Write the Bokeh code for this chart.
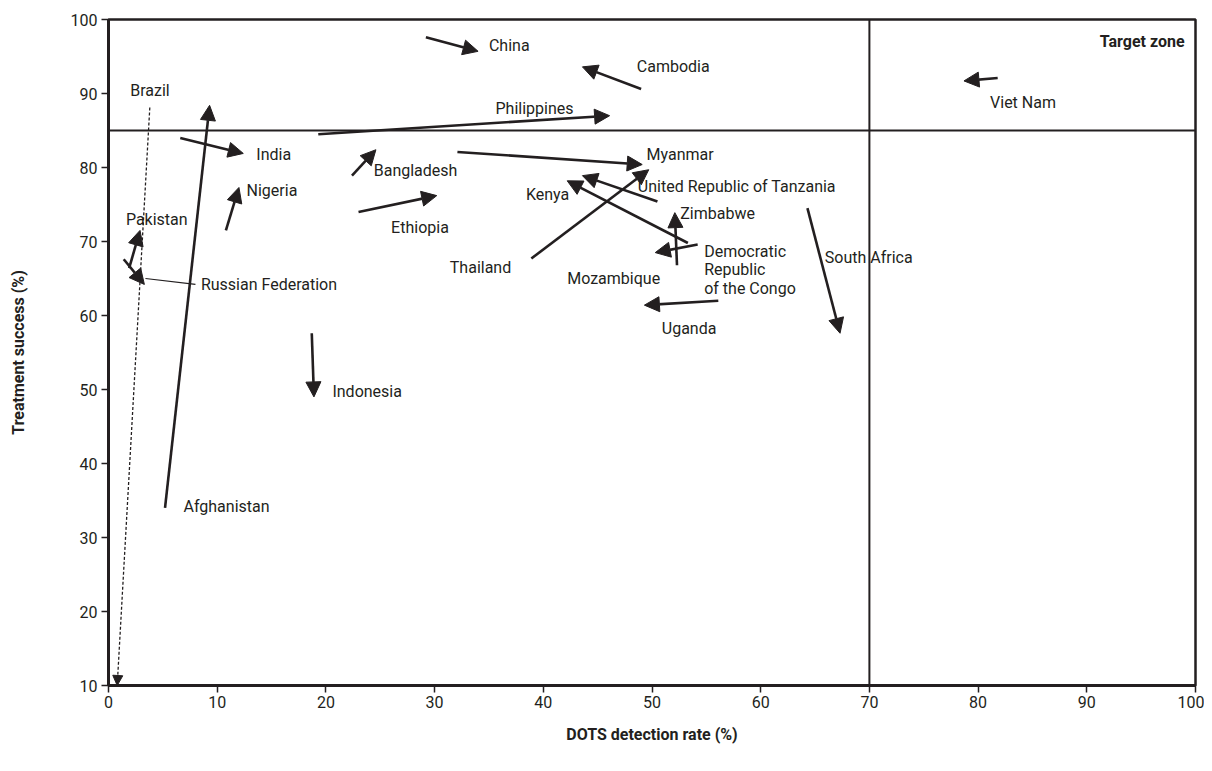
from bokeh.plotting import figure
from bokeh.models import Arrow, NormalHead, ColumnDataSource, Span, Range1d, FixedTicker, Label
from bokeh.core.properties import value
from bokeh.embed import file_html
from bokeh.resources import INLINE

FONT = "Roboto"

countries = ["China", "Cambodia", "Philippines", "Viet Nam", "Afghanistan", "India", "Nigeria",
             "Bangladesh", "Ethiopia", "Pakistan", "Russian Federation", "Indonesia", "Myanmar",
             "Thailand", "Kenya", "United Republic of Tanzania", "Zimbabwe",
             "Democratic Republic of the Congo", "Uganda", "South Africa"]
det_start = [29.2, 49.0, 19.3, 81.8, 5.2, 6.6, 10.8, 22.4, 23.0, 1.9, 1.4, 18.7, 32.1, 38.9, 53.3, 50.5, 52.3, 54.2, 56.1, 64.3]
det_end   = [34.0, 43.6, 46.1, 78.7, 9.3, 12.4, 12.0, 24.6, 30.2, 2.9, 3.3, 18.9, 49.1, 49.7, 42.2, 43.6, 52.1, 50.3, 49.3, 67.3]
suc_start = [97.6, 90.6, 84.5, 92.1, 34.0, 84.0, 71.5, 78.9, 74.0, 66.4, 67.6, 57.6, 82.1, 67.7, 69.8, 75.4, 66.8, 69.6, 62.0, 74.5]
suc_end   = [95.7, 93.6, 87.0, 91.7, 88.4, 81.9, 77.3, 82.4, 76.2, 71.5, 64.2, 49.0, 80.4, 79.7, 78.2, 78.9, 73.9, 68.5, 61.4, 57.6]

# Brazil (dotted)
brazil_det = [3.8, 0.8]
brazil_suc = [88.1, 10.0]

label_text = ["China", "Cambodia", "Philippines", "Viet Nam", "Brazil", "Afghanistan", "India", "Nigeria",
              "Bangladesh", "Ethiopia", "Pakistan", "Russian Federation", "Indonesia", "Myanmar",
              "Thailand", "Kenya", "United Republic of Tanzania", "Zimbabwe",
              "Democratic\nRepublic\nof the Congo", "Mozambique", "Uganda", "South Africa"]
label_x = [35.0, 48.6, 35.6, 81.1, 2.0, 6.9, 13.6, 12.7, 24.4, 26.0, 1.6, 8.5, 20.6, 49.5, 31.4, 38.4, 48.7, 52.6, 54.8, 42.2, 50.9, 65.9]
label_y = [96.45, 93.65, 87.95, 88.75, 90.45, 34.15, 81.75, 76.95, 79.65, 71.85, 72.95, 64.15, 49.75, 81.75, 66.45, 76.35, 77.45, 73.75, 66.2, 64.95, 58.25, 67.85]

leader_x = [3.4, 8.0]
leader_y = [65.0, 64.2]

x_ticks = [0, 10, 20, 30, 40, 50, 60, 70, 80, 90, 100]
y_ticks = [10, 20, 30, 40, 50, 60, 70, 80, 90, 100]
target_det = 70
target_suc = 85

p = figure(width=1204, height=763, output_backend="svg", toolbar_location=None,
           x_range=Range1d(0, 100), y_range=Range1d(10, 100),
           min_border_left=108, min_border_right=9, min_border_top=19, min_border_bottom=78)
p.background_fill_color = "white"
p.border_fill_color = "white"
p.outline_line_color = "#231f20"
p.outline_line_width = 2.5
p.grid.visible = False

for ax in (p.xaxis, p.yaxis):
    ax.axis_line_width = 3
    ax.axis_line_color = "#231f20"
    ax.major_tick_line_color = "#231f20"
    ax.major_tick_line_width = 1.5
    ax.major_tick_out = 7
    ax.major_tick_in = 0
    ax.minor_tick_line_color = None
    ax.major_label_text_font = FONT
    ax.major_label_text_font_size = "16px"
    ax.major_label_text_color = "#231f20"
    ax.axis_label_text_font = FONT
    ax.axis_label_text_font_size = "16px"
    ax.axis_label_text_font_style = "bold"
    ax.axis_label_text_color = "#231f20"

p.xaxis.ticker = FixedTicker(ticks=x_ticks)
p.yaxis.ticker = FixedTicker(ticks=y_ticks)
p.xaxis.axis_label = "DOTS detection rate (%)"
p.yaxis.axis_label = "Treatment success (%)"
p.xaxis.axis_label_standoff = 14
p.yaxis.axis_label_standoff = 40
p.xaxis.major_label_standoff = 3
p.yaxis.major_label_standoff = 4

p.add_layout(Span(location=target_suc, dimension="width", line_color="#231f20", line_width=2))
p.add_layout(Span(location=target_det, dimension="height", line_color="#231f20", line_width=2))

src = ColumnDataSource(dict(x0=det_start, y0=suc_start, x1=det_end, y1=suc_end))
p.add_layout(Arrow(end=NormalHead(size=15, fill_color="#231f20", line_color="#231f20", line_width=1),
                   x_start="x0", y_start="y0", x_end="x1", y_end="y1", source=src,
                   line_color="#231f20", line_width=2.6))

bsrc = ColumnDataSource(dict(x0=[brazil_det[0]], y0=[brazil_suc[0]], x1=[brazil_det[1]], y1=[brazil_suc[1]]))
p.add_layout(Arrow(end=NormalHead(size=10, fill_color="#231f20", line_color="#231f20", line_width=1),
                   x_start="x0", y_start="y0", x_end="x1", y_end="y1", source=bsrc,
                   line_color="#231f20", line_width=1.3, line_dash="3 2"))

p.line(leader_x, leader_y, line_color="#231f20", line_width=1.2)

lsrc = ColumnDataSource(dict(x=label_x, y=label_y, t=label_text))
p.text(x="x", y="y", text="t", source=lsrc, text_font=value(FONT), text_font_size="16px",
       text_color="#231f20", text_align="left", text_baseline="middle", text_line_height=0.98)

p.add_layout(Label(x=99, y=97.0, text="Target zone", text_align="right", text_baseline="middle",
                   text_font=FONT, text_font_size="16px", text_font_style="bold", text_color="#231f20"))

open("out.html", "w").write(file_html(p, INLINE))
